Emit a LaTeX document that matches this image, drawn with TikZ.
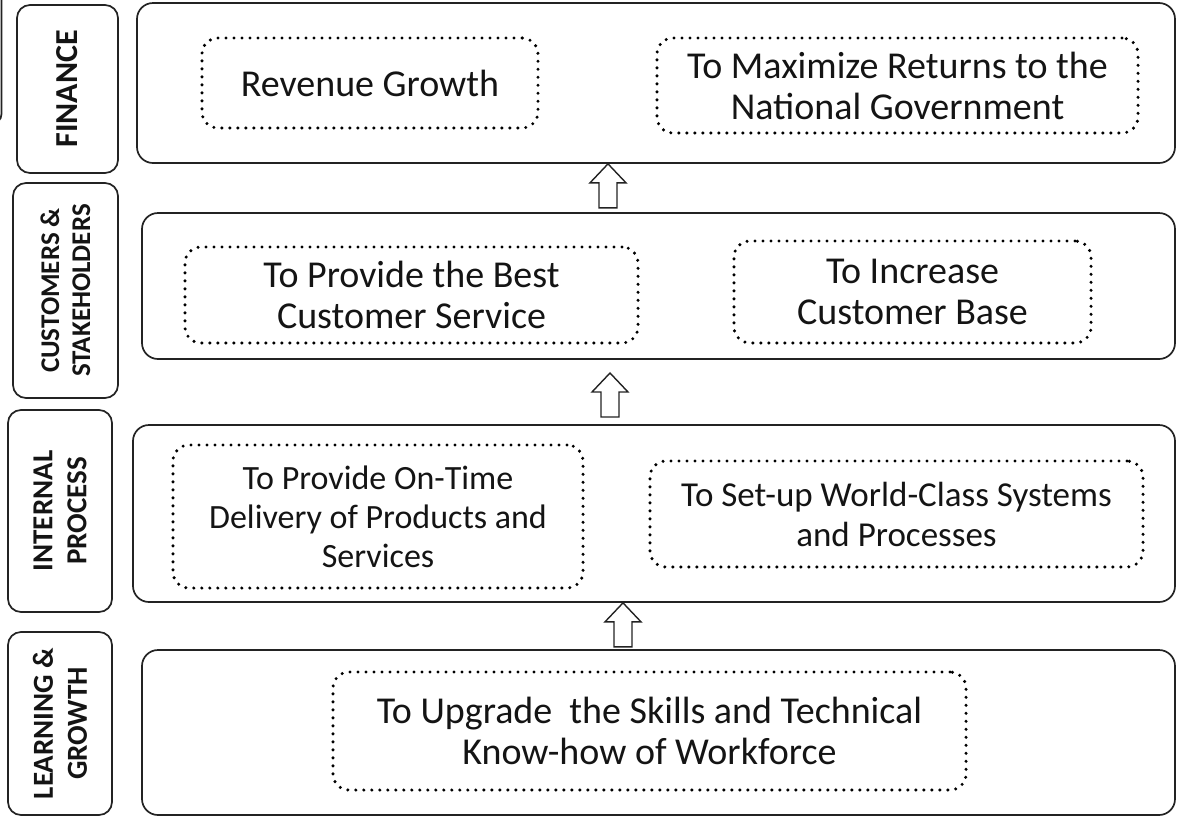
\documentclass[tikz,border=0pt]{standalone}
\usepackage{fontspec}
\setmainfont{Carlito}
\definecolor{inkline}{RGB}{35,35,35}
\definecolor{inktext}{RGB}{20,20,20}

\begin{document}
\begin{tikzpicture}[x=1pt, y=-1pt,
    layer/.style={draw=inkline, line width=1.7pt, rounded corners=16pt, inner sep=0pt},
    tag/.style={draw=inkline, line width=1.7pt, rounded corners=13pt, inner sep=0pt,
      rotate=90, align=center, text=inktext, font=\bfseries\fontsize{29}{34}\selectfont},
    goal/.style={draw=black, line width=3.4pt, dash pattern=on 0pt off 8pt, line cap=round,
      rounded corners=16pt, inner sep=0pt, align=center, text=inktext,
      font=\fontsize{38}{41}\selectfont},
    liftarrow/.pic={
      \draw[draw=inkline, fill=white, line width=1.4pt]
        (0,0) -- (18,19) -- (9,19) -- (9,44) -- (-9,44) -- (-9,19) -- (-18,19) -- cycle;
    }]

  \useasboundingbox (0,0) rectangle (1178,820);

  % Edge of the neighbouring frame
  \draw[draw=inkline, line width=1.7pt, rounded corners=10pt] (1.5,-5) -- (1.5,124) -- (-20,124);

  % Perspective tags
  \node[tag, minimum width=168pt, minimum height=101pt, font=\bfseries\fontsize{32}{36}\selectfont]
    (finTag) at (67.5,89) {FINANCE};
  \node[tag, minimum width=215pt, minimum height=105pt, font=\bfseries\fontsize{27}{31}\selectfont]
    (cusTag) at (65.5,290.5) {CUSTOMERS \&\\STAKEHOLDERS};
  \node[tag, minimum width=202pt, minimum height=104pt] (intTag) at (60,511) {INTERNAL\\PROCESS};
  \node[tag, minimum width=183pt, minimum height=104pt] (leaTag) at (60,723.5) {LEARNING \&\\GROWTH};

  % Layer frames
  \node[layer, minimum width=1038pt, minimum height=160pt] (finLayer) at (656,83) {};
  \node[layer, minimum width=1033pt, minimum height=146pt] (cusLayer) at (658.5,286) {};
  \node[layer, minimum width=1042pt, minimum height=177pt] (intLayer) at (654,513.5) {};
  \node[layer, minimum width=1033pt, minimum height=165pt] (leaLayer) at (658.5,732.5) {};

  % Objectives
  \node[goal, minimum width=336pt, minimum height=90pt] (revGoal) at (370,83) {Revenue Growth};
  \node[goal, minimum width=481pt, minimum height=95pt] (retGoal) at (897.5,85.5)
    {To Maximize Returns to the\\National Government};
  \node[goal, minimum width=453pt, minimum height=96pt] (srvGoal) at (411.5,295)
    {To Provide the Best\\Customer Service};
  \node[goal, minimum width=357pt, minimum height=102pt] (baseGoal) at (912.5,292)
    {To Increase\\Customer Base};
  \node[goal, minimum width=410pt, minimum height=143pt, font=\fontsize{34}{39}\selectfont]
    (dlvGoal) at (378,516.5) {To Provide On-Time\\Delivery of Products and\\Services};
  \node[goal, minimum width=493pt, minimum height=106pt, font=\fontsize{35}{40}\selectfont]
    (sysGoal) at (896.5,514) {To Set-up World-Class Systems\\and Processes};
  \node[goal, minimum width=633pt, minimum height=118pt] (sklGoal) at (649.5,731)
    {To Upgrade\ \ the Skills and Technical\\Know-how of Workforce};

  % Arrows between layers
  \pic at (608,0 |- finLayer.south) {liftarrow};
  \pic at (610,373) {liftarrow};
  \pic at (623,0 |- intLayer.south) {liftarrow};

\end{tikzpicture}
\end{document}
